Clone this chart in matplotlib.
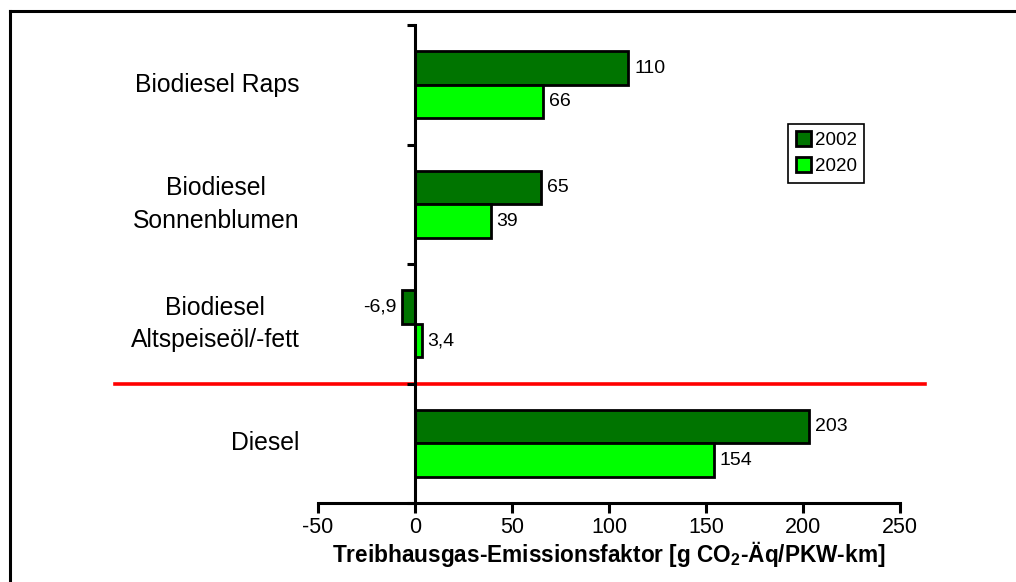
import matplotlib
matplotlib.use('Agg')
import matplotlib.pyplot as plt
from matplotlib.lines import Line2D
import matplotlib.transforms as mtransforms
import numpy as np

plt.rcParams['font.family'] = ['Liberation Sans', 'DejaVu Sans']
plt.rcParams['mathtext.fontset'] = 'custom'
plt.rcParams['mathtext.rm'] = 'Liberation Sans'
plt.rcParams['mathtext.bf'] = 'Liberation Sans:bold'

categories = ['Biodiesel Raps', 'Biodiesel\nSonnenblumen', 'Biodiesel\nAltspeiseöl/-fett', 'Diesel']
values_2002 = [110, 65, -6.9, 203]
values_2020 = [66, 39, 3.4, 154]
labels_2002 = ['110', '65', '-6,9', '203']
labels_2020 = ['66', '39', '3,4', '154']
series_names = ['2002', '2020']
x_ticks = [-50, 0, 50, 100, 150, 200, 250]

dark_green = '#007400'
light_green = '#00ff00'

fig = plt.figure(figsize=(10.16, 5.82), dpi=100)
ax = fig.add_axes([0.313, 0.1357, 0.573, 0.821])

n = len(categories)
y = np.arange(n)[::-1]
h = 0.28

b1 = ax.barh(y + h / 2, values_2002, height=h, color=dark_green, edgecolor='black',
             linewidth=2, label=series_names[0])
b2 = ax.barh(y - h / 2, values_2020, height=h, color=light_green, edgecolor='black',
             linewidth=2, label=series_names[1])
ax.bar_label(b1, labels=labels_2002, padding=4, fontsize=14)
ax.bar_label(b2, labels=labels_2020, padding=4, fontsize=14)

ax.set_xlim(-50, 250)
ax.set_ylim(-0.5, n - 0.5)
ax.set_xticks(x_ticks)
ax.set_xticklabels([str(t) for t in x_ticks], fontsize=15.5)
ax.set_yticks(np.arange(n + 1) - 0.5)
ax.set_yticklabels([])
ax.tick_params(axis='x', length=7, width=2.2, pad=3)
ax.tick_params(axis='y', length=6, width=2.2)

ax.spines['left'].set_position(('data', 0))
ax.spines['left'].set_linewidth(2.2)
ax.spines['bottom'].set_linewidth(2.2)
ax.spines['top'].set_visible(False)
ax.spines['right'].set_visible(False)

# category names, right-aligned left of the plot
trans = mtransforms.blended_transform_factory(ax.transAxes, ax.transData)
for yi, name in zip(y, categories):
    ax.text(-0.032, yi, name, transform=trans, ha='right', va='center',
            multialignment='center', fontsize=17.8, linespacing=1.45)

# red separator between biodiesel and diesel
ax.plot([-0.349, 1.043], [0.5, 0.5], transform=trans, color='red', linewidth=2.6,
        clip_on=False, zorder=1)

ax.set_xlabel(r'Treibhausgas-Emissionsfaktor [g CO$_\mathbf{2}$-Äq/PKW-km]',
              fontsize=16.3, fontweight='bold', labelpad=1)

leg = ax.legend(loc='center', bbox_to_anchor=(0.873, 0.732), fontsize=13.5,
                fancybox=False, framealpha=1, edgecolor='black',
                handlelength=0.8, handleheight=0.8, handletextpad=0.2,
                borderpad=0.4, labelspacing=0.45, borderaxespad=0)
leg.get_frame().set_linewidth(1.2)

# page frame
fig.add_artist(Line2D([10 / 1016, 1], [1 - 11 / 582, 1 - 11 / 582], color='black', linewidth=2.2))
fig.add_artist(Line2D([10 / 1016, 10 / 1016], [0, 1 - 11 / 582], color='black', linewidth=2.2))

fig.savefig('out.png', dpi=100)
